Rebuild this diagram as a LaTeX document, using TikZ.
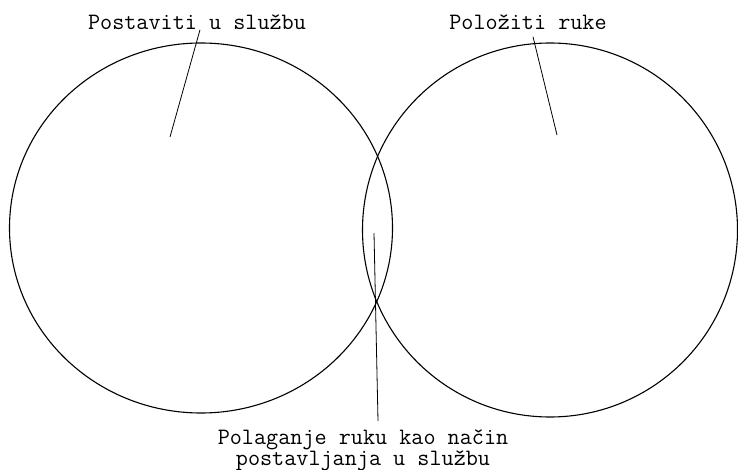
\documentclass[tikz,border=0pt]{standalone}
\usepackage{fontspec}
\usetikzlibrary{shapes.geometric}
\begin{document}
\begin{tikzpicture}[x=1pt, y=-1pt,
        ring/.style={ellipse, draw=black, line width=1.1pt, inner sep=0pt},
        caption/.style={font=\ttfamily\fontsize{23.5}{20}\selectfont, align=center, inner sep=0pt},
        pointer/.style={draw=black, line width=0.8pt}
    ]
        \useasboundingbox (0,0) rectangle (738,470);
        \node[ring, minimum width=383pt, minimum height=370pt] (sluzba) at (201,228) {};
        \node[ring, minimum width=375pt, minimum height=374pt] (ruke) at (550,230) {};

        \node[caption] (postaviti) at (197,22) {Postaviti u službu};
        \node[caption] (poloziti) at (528,22) {Položiti ruke};
        \node[caption, anchor=north] (polaganje) at (363,429) {Polaganje ruku kao način\\postavljanja u službu};

        \coordinate (sluzba tip) at (170,137);
        \coordinate (ruke tip) at (557,135);
        \coordinate (presjek tip) at (374,233);

        \draw[pointer] ([xshift=3pt]postaviti.south) -- (sluzba tip);
        \draw[pointer] ([shift={(5,7)}]poloziti.south) -- (ruke tip);
        \draw[pointer] (presjek tip) -- ([shift={(15,-8)}]polaganje.north);
    \end{tikzpicture}
\end{document}
